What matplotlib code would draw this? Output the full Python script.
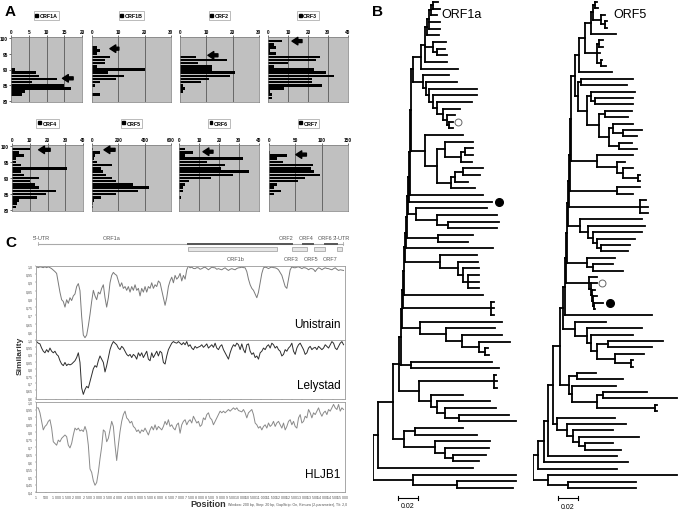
import numpy as np
import matplotlib
matplotlib.use("Agg")
import matplotlib.pyplot as plt
from matplotlib.collections import LineCollection
from matplotlib.patches import Rectangle

plt.rcParams['font.family'] = ['Liberation Sans', 'DejaVu Sans']

W, H = 678, 510

# ---------------- panel A: nucleotide identity (%) distributions ----------------
levels = [81, 82, 83, 84, 85, 86, 87, 88, 89, 90, 91, 92, 93, 94, 95, 96, 97, 98, 99, 100]
orf1a_counts = [0, 3, 4, 17, 15, 6, 13, 8, 7, 1, 0, 0, 0, 0, 0, 0, 0, 0, 0, 0]
orf1b_counts = [0, 3, 0, 0, 1, 3, 9, 12, 6, 20, 2, 5, 5, 7, 2, 3, 2, 0, 0, 0]
orf2_counts = [0, 0, 1, 2, 1, 8, 11, 19, 21, 12, 12, 7, 18, 6, 0, 0, 0, 0, 0, 0]
orf3_counts = [2, 2, 1, 8, 27, 22, 22, 33, 29, 23, 3, 10, 24, 26, 4, 1, 4, 3, 7, 0]
orf4_counts = [2, 3, 4, 14, 19, 25, 15, 13, 10, 15, 7, 5, 31, 5, 2, 2, 7, 4, 10, 0]
orf5_counts = [5, 8, 15, 70, 180, 350, 430, 310, 180, 150, 110, 80, 70, 150, 40, 15, 20, 60, 10, 0]
orf6_counts = [0, 0, 0, 1, 0, 2, 2, 3, 5, 16, 27, 35, 21, 23, 14, 32, 3, 7, 3, 0]
orf7_counts = [0, 0, 0, 0, 10, 22, 10, 15, 55, 68, 97, 85, 80, 83, 27, 15, 35, 1, 0, 0]
orf_names = ["ORF1A", "ORF1B", "ORF2", "ORF3", "ORF4", "ORF5", "ORF6", "ORF7"]
orf_xmax = [20, 30, 30, 40, 40, 600, 40, 150]
orf_xstep = [5, 10, 10, 10, 10, 200, 10, 50]
# arrow (strain position): x tip, x tail, identity level
arrow_tip = [14.5, 6.8, 10.6, 12, 15, 91, 12, 51]
arrow_tail = [17.5, 10.2, 14.4, 17, 21.5, 175, 17, 71]
arrow_y = [87.2, 96.6, 94.5, 99.0, 98.8, 98.8, 98.2, 97.3]

# ---------------- panel C: similarity plots (window 200 bp, step 20 bp) ----------------
unistrain = [0.995, 0.99, 0.995, 0.993, 0.99, 0.995, 0.99, 0.995, 0.99, 0.984, 0.975, 0.966, 0.955, 0.898,
             0.84, 0.795, 0.784, 0.75, 0.795, 0.773, 0.807, 0.79, 0.818, 0.83, 0.875, 0.893, 0.85, 0.693, 0.58, 0.564, 0.58, 0.636, 0.705, 0.784,
             0.852, 0.818, 0.795, 0.841, 0.83, 0.864, 0.886, 0.807, 0.75, 0.807, 0.898, 0.943, 0.961, 0.95, 0.943, 0.909, 0.875, 0.898, 0.864, 0.875,
             0.852, 0.875, 0.841, 0.875, 0.852, 0.886, 0.852, 0.864, 0.818, 0.864, 0.841, 0.875, 0.841, 0.875, 0.864, 0.898, 0.864, 0.886, 0.875, 0.909,
             0.898, 0.852, 0.807, 0.761, 0.807, 0.875, 0.909, 0.932, 0.898, 0.943, 0.92, 0.932, 0.955, 0.909, 0.943, 0.92, 0.977, 1.0, 0.989, 0.993,
             0.985, 0.984, 0.99, 0.989, 0.98, 0.984, 0.99, 0.993, 0.985, 0.977, 0.985, 0.993, 0.99, 0.989, 0.98, 0.984, 0.98, 0.977, 0.984, 0.989,
             0.98, 0.973, 0.98, 0.984, 0.98, 0.977, 0.985, 0.989, 0.99, 0.993, 0.99, 0.989, 0.966, 0.92, 0.886, 0.864, 0.852, 0.83, 0.807, 0.841,
             0.898, 0.955, 0.989, 0.993, 0.99, 0.984, 0.99, 0.993, 0.99, 0.989, 0.985, 0.977, 0.96, 0.943, 0.909, 0.875, 0.864, 0.92, 0.977, 0.995,
             0.99, 0.989, 0.993, 0.995, 0.99, 0.984, 0.99, 0.989, 0.985, 0.977, 0.984, 0.984, 0.98, 0.966, 0.98, 0.989, 0.985, 0.977, 0.984, 0.989,
             0.985, 0.984, 0.98, 0.977, 0.984, 0.989, 0.98, 0.973, 0.977, 0.975, 0.973]
lelystad = [0.989, 0.978, 0.973, 0.944, 0.922, 0.911, 0.933, 0.916, 0.944, 0.922, 0.911, 0.922, 0.9, 0.889,
            0.856, 0.833, 0.822, 0.844, 0.822, 0.833, 0.827, 0.833, 0.844, 0.856, 0.878, 0.911, 0.844, 0.667, 0.622, 0.656, 0.678, 0.667, 0.711, 0.756,
            0.8, 0.822, 0.811, 0.856, 0.889, 0.867, 0.844, 0.778, 0.822, 0.878, 0.933, 0.967, 0.989, 0.978, 0.967, 0.944, 0.933, 0.956, 0.944, 0.922,
            0.9, 0.889, 0.9, 0.878, 0.9, 0.889, 0.867, 0.911, 0.889, 0.911, 0.878, 0.9, 0.922, 0.867, 0.856, 0.911, 0.878, 0.9, 0.922, 0.889,
            0.922, 0.911, 0.844, 0.833, 0.889, 0.933, 0.956, 0.978, 0.989, 0.982, 0.978, 0.989, 0.978, 0.967, 0.982, 0.967, 0.989, 0.956, 0.967, 0.944,
            0.933, 0.956, 0.944, 0.951, 0.956, 0.967, 0.949, 0.96, 0.973, 0.944, 0.956, 0.967, 0.949, 0.978, 0.944, 0.933, 0.956, 0.967, 0.933, 0.911,
            0.889, 0.867, 0.911, 0.944, 0.967, 0.956, 0.978, 0.967, 0.933, 0.973, 0.933, 0.911, 0.967, 0.973, 0.922, 0.9, 0.911, 0.878, 0.889, 0.867,
            0.911, 0.922, 0.944, 0.933, 0.956, 0.967, 0.944, 0.978, 0.967, 0.944, 0.956, 0.933, 0.922, 0.889, 0.9, 0.933, 0.922, 0.944, 0.956, 0.978,
            0.922, 0.9, 0.944, 0.967, 0.978, 0.956, 0.933, 0.9, 0.911, 0.944, 0.956, 0.933, 0.944, 0.949, 0.933, 0.956, 0.944, 0.933, 0.944, 0.967,
            0.956, 0.944, 0.967, 0.989, 0.978, 0.944, 0.933, 0.956, 0.978, 0.989, 0.967]
hljb1 = [0.961, 0.961, 0.928, 0.871, 0.814, 0.837, 0.848, 0.871, 0.882, 0.826, 0.735, 0.724, 0.712, 0.746,
         0.735, 0.758, 0.769, 0.78, 0.769, 0.712, 0.694, 0.724, 0.78, 0.826, 0.814, 0.826, 0.807, 0.814, 0.803, 0.837, 0.803, 0.712, 0.554, 0.531,
         0.475, 0.445, 0.463, 0.531, 0.622, 0.701, 0.814, 0.803, 0.735, 0.758, 0.814, 0.871, 0.837, 0.712, 0.61, 0.712, 0.803, 0.871, 0.916, 0.939,
         0.894, 0.882, 0.86, 0.871, 0.837, 0.826, 0.803, 0.814, 0.792, 0.814, 0.803, 0.826, 0.803, 0.78, 0.814, 0.837, 0.814, 0.848, 0.814, 0.837,
         0.826, 0.814, 0.837, 0.871, 0.848, 0.882, 0.837, 0.848, 0.826, 0.814, 0.848, 0.86, 0.792, 0.848, 0.871, 0.882, 0.848, 0.871, 0.882, 0.86,
         0.905, 0.882, 0.86, 0.871, 0.837, 0.848, 0.894, 0.882, 0.916, 0.928, 0.894, 0.882, 0.848, 0.871, 0.894, 0.916, 0.939, 0.928, 0.939, 0.928,
         0.939, 0.95, 0.939, 0.95, 0.961, 0.95, 0.961, 0.943, 0.939, 0.934, 0.95, 0.928, 0.894, 0.928, 0.939, 0.95, 0.916, 0.86, 0.848, 0.826,
         0.837, 0.814, 0.837, 0.848, 0.826, 0.86, 0.837, 0.848, 0.871, 0.837, 0.86, 0.871, 0.848, 0.826, 0.86, 0.814, 0.837, 0.871, 0.882, 0.848,
         0.871, 0.837, 0.826, 0.894, 0.916, 0.86, 0.871, 0.905, 0.894, 0.95, 0.928, 0.894, 0.928, 0.916, 0.939, 0.961, 0.928, 0.905, 0.928, 0.939,
         0.916, 0.95, 0.939, 0.961, 0.984, 0.961, 0.95, 0.984, 0.939, 0.961, 0.95]
first_window, last_window = 30, 15030

# genome organisation (bp)
genome_end = 15010
map_names = ["ORF1a", "ORF1b", "ORF2", "ORF3", "ORF4", "ORF5", "ORF6", "ORF7"]
map_start = [100, 7430, 11880, 12520, 13050, 13590, 14100, 14720]
map_stop = [7430, 11780, 12520, 13250, 13540, 14130, 14720, 14960]
map_row = [0, 1, 0, 1, 0, 1, 0, 1]

# ---------------- panel B: phylogenetic trees (branch lengths in 0.001 subst./site) ----------------
o1a_A = "((((((:5,:7):2,:6):2,:11,:11):2,:12):2,(:13,(:8,:10):4):8,:22):4,:37)"
o1a_B = "(:26,(:31,(:48,(:44,(:35,(:17,(:8,(:4,:4):2):4):6):4):4):3):3)"
o1a_C = "(:38,((:28,((:8,:8):4,:11):16):8,(((:20,:17):8,:13):4,:24):14):12)"
o1a_D = "(:71,(:60,(:51,:49):11):21)"
o1a_E = "(:35,:30)"
o1a_F = "(:37,(:20,(:16,(:11,:11,:11):5):5):18)"
o1a_H = "(:3,:3,:3)"
o1a_I = "(:82,(:49,(:40,(:31,(:3,:4):6):17):16):26)"
o1a_J1 = "(:81,:88)"
o1a_J2 = "((:2,:3,:3):75,(:32,(:53,(:51,(:50,:57):14):8):6):12)"
o1a_L = "((:48,:62):11,(:55,(:44,(:33,:26):8):10):31)"
o1a_M = "(:103,(:59,:56):44)"
o1a_top = "(" + o1a_A + ":8," + o1a_B + ":10)"
# (side clade, side branch, backbone branch) from top to root
o1a_ladder = [(o1a_C, 14, 2), ("", 73, 1), ("", 83, 1), (o1a_D, 8, 1), (o1a_E, 31, 1), ("", 87, 1),
              (o1a_F, 35, 1), ("", 79, 1), (o1a_H, 88, 1), (o1a_I, 18, 1), (o1a_J1, 10, 1),
              (o1a_J2, 20, 2), (o1a_L, 11, 6), ("", 95, 15), (o1a_M, 40, 5)]
o1a_open, o1a_filled = 18, 30

o5_P1 = "(((((:2,:3):2,(:4,(:2,:2):4):8):2,:25):6,((:4,:4):2,:3,(:1,:5):4):12):6,:33)"
o5_P2 = "((:52,:46):3,((:44,(:38,:38):4):4,((:27,:23):6,((:20,(:19,:14):10):4,(:13,:18):10):10):12):9)"
o5_P3 = "(:36,(:8,(:10,(:2,:2):15):6):20)"
o5_P4 = "(:23,:16)"
o5_P5 = "(:6,:8,:8)"
o5_P6 = "(:62,(:57,(:49,(:38,(:29,:27):4):4):5):8)"
o5_P7 = "(:28,(:20,:30):6)"
o5_P8 = "(:8,(:6,(:3,(:4,(:9,:1):1):1):1):2)"
o5_P9 = "(:31,(:55,(:42,((:55,:44):11,(:29,(:2,:2):16):18):6):4):12)"
o5_P10 = "((:19,:46):8,(:44,((:44,:74):6,(:2,:2):58):25):3)"
o5_P11 = "(:58,(:59,(:40,(:60,(:28,:36):6):6):6):10)"
o5_P12 = "(:129,(:68,:68):20)"
o5_top = "(" + o5_P1 + ":4," + o5_P2 + ":3)"
o5_ladder = [(o5_P3, 26, 4), (o5_P4, 47, 1), (o5_P5, 71, 1), (o5_P6, 12, 1), (o5_P7, 20, 1),
             (o5_P8, 23, 1), ("", 87, 1), (o5_P9, 12, 2), (o5_P10, 9, 3), (o5_P11, 4, 7),
             ("", 69, 5), ("", 84, 4), ("", 79, 6), (o5_P12, 15, 5)]
o5_open, o5_filled = 44, 47


def px_box(x0, y0, x1, y1):
    return [x0 / W, 1 - y1 / H, (x1 - x0) / W, (y1 - y0) / H]


def build(top, ladder):
    cur = top
    for side, side_len, step in ladder:
        cur = "(" + cur + ":" + str(step) + "," + side + ":" + str(side_len) + ")"
    return cur + ";"


def parse(s):
    pos = 0

    def node():
        nonlocal pos
        kids = []
        if s[pos] == "(":
            pos += 1
            kids.append(node())
            while s[pos] == ",":
                pos += 1
                kids.append(node())
            pos += 1
        while s[pos] not in ":,);":
            pos += 1
        length = 0.0
        if s[pos] == ":":
            pos += 1
            start = pos
            while s[pos] not in ",);":
                pos += 1
            length = float(s[start:pos])
        return {"len": length, "kids": kids}

    return node()


def layout(tree):
    tips, segs = [], []

    def walk(n, x0):
        x = x0 + n["len"]
        if not n["kids"]:
            y = len(tips)
            tips.append(x)
            segs.append([(x0, y), (x, y)])
            return y
        ys = [walk(k, x) for k in n["kids"]]
        y = (ys[0] + ys[-1]) / 2
        segs.append([(x0, y), (x, y)])
        segs.append([(x, ys[0]), (x, ys[-1])])
        return y

    walk(tree, 0.0)
    return tips, segs


fig = plt.figure(figsize=(W / 100, H / 100), dpi=100)

# ---------------- panel A ----------------
boxes_A = [(11, 38, 82, 103), (92, 38, 171, 103), (180, 38, 259, 103), (268, 38, 348, 103),
           (12, 146, 83, 212), (92, 146, 171, 212), (179, 146, 259, 212), (269, 146, 348, 212)]
all_counts = [orf1a_counts, orf1b_counts, orf2_counts, orf3_counts,
              orf4_counts, orf5_counts, orf6_counts, orf7_counts]
for i, name in enumerate(orf_names):
    ax = fig.add_axes(px_box(*boxes_A[i]))
    ax.set_facecolor("#c0c0c0")
    ax.barh(levels, all_counts[i], height=0.8, color="black", label=name)
    ax.set_xlim(0, orf_xmax[i])
    ax.set_ylim(79.7, 100.3)
    xt = np.arange(0, orf_xmax[i] + 1, orf_xstep[i])
    ax.set_xticks(xt)
    for v in xt[1:-1]:
        ax.axvline(v, color="#444444", lw=0.5, zorder=0)
    ax.xaxis.tick_top()
    ax.tick_params(axis="both", labelsize=3.4, length=1.2, width=0.4, pad=1.0)
    if i in (0, 4):
        ax.set_yticks([80, 85, 90, 95, 100])
    else:
        ax.set_yticks([])
    for lbl in ax.get_xticklabels() + ax.get_yticklabels():
        lbl.set_fontweight("bold")
    for sp in ax.spines.values():
        sp.set_color("#777777")
        sp.set_linewidth(0.5)
    ax.annotate("", xy=(arrow_tip[i], arrow_y[i]), xytext=(arrow_tail[i], arrow_y[i]),
                arrowprops=dict(arrowstyle="simple,head_width=0.9,head_length=0.7,tail_width=0.35",
                                color="black", mutation_scale=6, shrinkA=0, shrinkB=0))
    leg = ax.legend(handles=[Rectangle((0, 0), 1, 1, color="black")], labels=[name],
                    loc="center", bbox_to_anchor=(0.5, 1.33), fontsize=3.8, frameon=True,
                    fancybox=False, handlelength=0.5, handleheight=0.5, handletextpad=0.3,
                    borderpad=0.35)
    leg.get_frame().set_edgecolor("#888888")
    leg.get_frame().set_linewidth(0.5)
    for t in leg.get_texts():
        t.set_fontweight("bold")

# ---------------- panel C ----------------
map_ax = fig.add_axes(px_box(36, 232, 345, 266))
map_ax.set_xlim(0, 15100)
map_ax.set_ylim(0, 1)
map_ax.axis("off")
map_ax.plot([map_start[0], genome_end], [0.62, 0.62], color="#aaaaaa", lw=0.8)
map_ax.plot([map_start[0], map_start[0]], [0.58, 0.68], color="#aaaaaa", lw=0.6)
map_ax.plot([genome_end, genome_end], [0.58, 0.68], color="#aaaaaa", lw=0.6)
for j in range(1, len(map_names)):
    if map_row[j] == 1:
        map_ax.add_patch(Rectangle((map_start[j], 0.40), map_stop[j] - map_start[j], 0.14,
                                   facecolor="#e6e6e6", edgecolor="#9a9a9a", lw=0.5))
    else:
        map_ax.plot([map_start[j], map_stop[j]], [0.62, 0.62], color="#555555", lw=1.4)
map_ax.plot([map_start[1], map_start[2]], [0.62, 0.62], color="#555555", lw=1.4)
top_lbl = [("5'-UTR", -150), ("ORF1a", 3280), ("ORF2", 11880), ("ORF4", 12860), ("ORF6", 13790), ("3'-UTR", 14480)]
bot_lbl = [("ORF1b", 9340), ("ORF3", 12130), ("ORF5", 13060), ("ORF7", 14030)]
for t, x in top_lbl:
    map_ax.text(x, 0.80, t, fontsize=4, color="#555555", va="center", ha="left")
for t, x in bot_lbl:
    map_ax.text(x, 0.18, t, fontsize=4, color="#555555", va="center", ha="left")

curves = [unistrain, lelystad, hljb1]
curve_names = ["Unistrain", "Lelystad", "HLJB1"]
curve_boxes = [(36, 267, 345, 341), (36, 341, 345, 400), (36, 403, 345, 493)]
curve_ylim = [(0.55, 1.0), (0.59, 1.0), (0.4, 1.0)]
curve_ybottom_tick = [0.6, 0.6, 0.4]
curve_color = ["#7a7a7a", "#2e2e2e", "#8a8a8a"]
xt_pos = [1] + list(range(500, 15001, 500))
for k, vals in enumerate(curves):
    ax = fig.add_axes(px_box(*curve_boxes[k]))
    pos = np.linspace(first_window, last_window, len(vals))
    ax.plot(pos, vals, color=curve_color[k], lw=0.7)
    ax.set_xlim(0, 15100)
    ax.set_ylim(*curve_ylim[k])
    yt = np.round(np.arange(1.0, curve_ybottom_tick[k] - 0.001, -0.05), 2)
    ax.set_yticks(yt)
    lab = []
    for v in yt:
        s = ("%g" % v).replace(".", ",")
        if "," not in s:
            s += ",0"
        lab.append(s)
    ax.set_yticklabels(lab)
    ax.set_xticks(xt_pos)
    if k == 2:
        ax.set_xticklabels([("{:,}".format(v)).replace(",", " ") for v in xt_pos])
    else:
        ax.set_xticklabels([])
    ax.tick_params(labelsize=2.6, length=1, width=0.3, pad=1, colors="#555555")
    for sp in ax.spines.values():
        sp.set_color("#999999")
        sp.set_linewidth(0.6)
    ax.text(0.985, 0.13, curve_names[k], transform=ax.transAxes, ha="right", va="bottom", fontsize=8.5)

fig.text(20 / W, 1 - 356 / H, "Similarity", rotation=90, fontsize=6, fontweight="bold",
         ha="center", va="center", color="#333333")
fig.text(208 / W, 1 - 505 / H, "Position", fontsize=6.5, fontweight="bold", ha="center",
         va="center", color="#333333")
fig.text(228 / W, 1 - 505 / H,
         "Window: 200 bp, Step: 20 bp, GapStrip: On, Kimura (2-parameter), T/t: 2,0",
         fontsize=2.6, ha="left", va="center", color="#555555")

# ---------------- panel B ----------------
trees = [(build(o1a_top, o1a_ladder), 373, "ORF1a", 462, o1a_open, o1a_filled),
         (build(o5_top, o5_ladder), 533, "ORF5", 630, o5_open, o5_filled)]
for newick, root_px, title, title_px, i_open, i_filled in trees:
    tips, segs = layout(parse(newick))
    n = len(tips)
    step = (489 - 3) / (n - 1)
    ax = fig.add_axes(px_box(root_px, 0, root_px + 145, 510))
    ax.set_xlim(0, 145)
    ax.set_ylim((510 - 3) / step, -3 / step)
    ax.axis("off")
    ax.add_collection(LineCollection(segs, colors="black", linewidths=1.3, capstyle="projecting"))
    ax.plot(tips[i_open] + 5, i_open, "o", ms=5, mfc="white", mec="#666666", mew=0.7)
    ax.plot(tips[i_filled] + 6.5, i_filled, "o", ms=5.5, color="black")
    yb = (499 - 3) / step
    ax.plot([25, 45], [yb, yb], color="black", lw=0.8)
    ax.plot([25, 25], [yb - 0.35, yb + 0.35], color="black", lw=0.8)
    ax.plot([45, 45], [yb - 0.35, yb + 0.35], color="black", lw=0.8)
    ax.text(35, (507 - 3) / step, "0.02", fontsize=5, ha="center", va="center")
    fig.text(title_px / W, 1 - 15 / H, title, fontsize=9, ha="center", va="center")

fig.text(5 / W, 1 - 12 / H, "A", fontsize=11, fontweight="bold", ha="left", va="center")
fig.text(372 / W, 1 - 12 / H, "B", fontsize=11, fontweight="bold", ha="left", va="center")
fig.text(5 / W, 1 - 243 / H, "C", fontsize=11, fontweight="bold", ha="left", va="center")

fig.savefig("out.png", dpi=100)
